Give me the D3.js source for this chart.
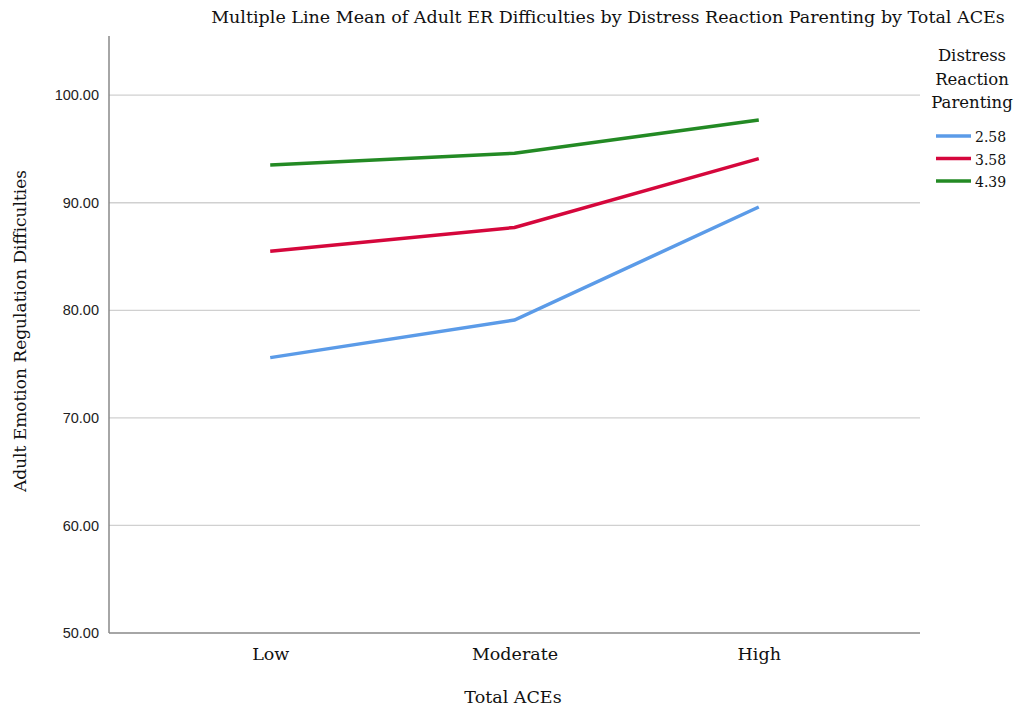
<!DOCTYPE html>
<html><head><meta charset="utf-8">
<script src="https://cdn.jsdelivr.net/npm/d3@7"></script>
<style>body{margin:0;background:#fff}svg{display:block}</style>
</head><body>
<svg id="c" width="1013" height="710"></svg>
<script>
const categories = ["Low", "Moderate", "High"];
const seriesNames = ["2.58", "3.58", "4.39"];
const series258 = [75.6, 79.1, 89.6];
const series358 = [85.5, 87.7, 94.1];
const series439 = [93.5, 94.6, 97.7];
const yTicks = [50, 60, 70, 80, 90, 100];
const colors = ["#5b9be8", "#d5073c", "#238a24"];

const svg = d3.select("#c");
const L = 109, R = 920, T = 36, B = 633;
const x = d3.scalePoint().domain(categories).range([L, R]).padding(0.66);
const y = d3.scaleLinear().domain([50, 105.5]).range([B, T]);
const serif = "DejaVu Serif, serif";

svg.append("g").selectAll("line").data(yTicks.filter(d => d > 50)).join("line")
  .attr("x1", L).attr("x2", R).attr("y1", d => y(d)).attr("y2", d => y(d))
  .attr("stroke", "#d0d0d0").attr("stroke-width", 1.3);

const ya = svg.append("g").attr("transform", `translate(${L},0)`)
  .call(d3.axisLeft(y).tickValues(yTicks).tickFormat(d3.format(".2f")).tickSize(0).tickPadding(10));
ya.select(".domain").remove();
ya.selectAll("text").attr("font-family", "Liberation Sans, Arial, sans-serif").attr("font-size", 14.5).attr("fill", "#222");
svg.append("line").attr("x1", L).attr("x2", L).attr("y1", T).attr("y2", B).attr("stroke", "#888").attr("stroke-width", 1.5);

const xa = svg.append("g").attr("transform", `translate(0,${B})`)
  .call(d3.axisBottom(x).tickSize(0).tickPadding(15));
xa.select(".domain").remove();
xa.selectAll("text").attr("font-family", serif).attr("font-size", 17.5).attr("fill", "#111");
svg.append("line").attr("x1", L).attr("x2", R).attr("y1", B).attr("y2", B).attr("stroke", "#888").attr("stroke-width", 1.5);

const data = [series258, series358, series439];
const line = d3.line().x((d, i) => x(categories[i])).y(d => y(d));
svg.append("g").selectAll("path").data(data).join("path")
  .attr("d", line).attr("fill", "none")
  .attr("stroke", (d, i) => colors[i]).attr("stroke-width", 3.5);

svg.append("text").attr("x", 608).attr("y", 23).attr("text-anchor", "middle")
  .attr("font-family", serif).attr("font-size", 17.5).attr("fill", "#111")
  .text("Multiple Line Mean of Adult ER Difficulties by Distress Reaction Parenting by Total ACEs");
svg.append("text").attr("x", 513).attr("y", 703).attr("text-anchor", "middle")
  .attr("font-family", serif).attr("font-size", 17.5).attr("fill", "#111").text("Total ACEs");
svg.append("text").attr("transform", "translate(26,331) rotate(-90)").attr("text-anchor", "middle")
  .attr("font-family", serif).attr("font-size", 17).attr("fill", "#111").text("Adult Emotion Regulation Difficulties");

const lg = svg.append("g");
["Distress", "Reaction", "Parenting"].forEach((t, i) => {
  lg.append("text").attr("x", 972).attr("y", 61 + i * 23.5).attr("text-anchor", "middle")
    .attr("font-family", serif).attr("font-size", 16.5).attr("fill", "#111").text(t);
});
seriesNames.forEach((n, i) => {
  const yy = 136 + i * 22.5;
  lg.append("line").attr("x1", 936).attr("x2", 971).attr("y1", yy).attr("y2", yy)
    .attr("stroke", colors[i]).attr("stroke-width", 3.5);
  lg.append("text").attr("x", 975).attr("y", yy + 6).attr("font-family", serif)
    .attr("font-size", 14).attr("fill", "#111").text(n);
});
</script>
</body></html>
